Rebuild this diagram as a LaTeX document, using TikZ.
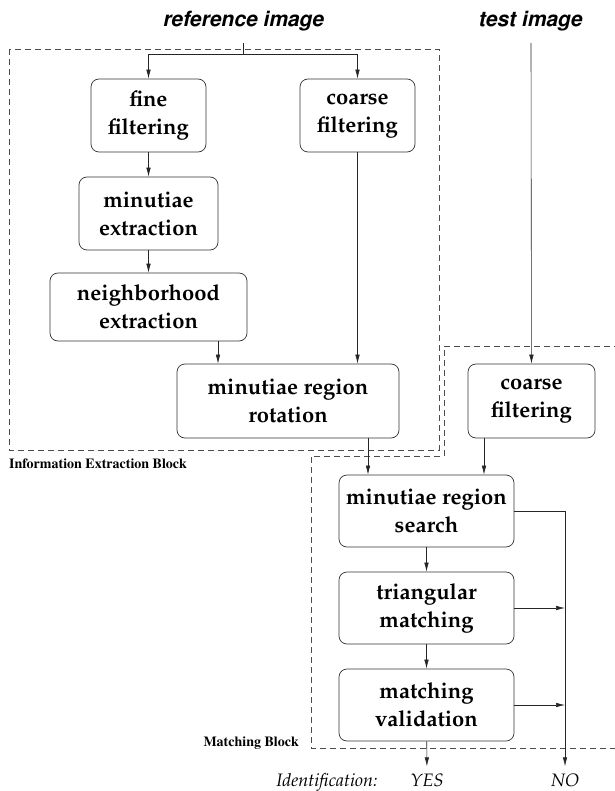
\documentclass[tikz,border=0pt]{standalone}
\usepackage[T1]{fontenc}
\usepackage{mathpazo}
\usepackage{helvet}
\usetikzlibrary{arrows.meta}

\begin{document}
\begin{tikzpicture}[
    x=1pt, y=-1pt,
    blk/.style = {draw=black!80, line width=0.7pt, rounded corners=8pt, align=center, minimum height=73pt, inner sep=2pt, font=\fontsize{22}{28}\selectfont\bfseries},
    arr/.style = {-{Latex[length=9pt,width=4.5pt]}, black!85, line width=0.6pt},
    blockline/.style = {dash pattern=on 6pt off 4pt, black!70, line width=0.6pt},
    title/.style = {font=\fontsize{21}{25}\selectfont\sffamily\bfseries\slshape},
    blocklabel/.style = {inner sep=0pt, font=\fontsize{14}{16}\fontfamily{ptm}\selectfont\bfseries},
    answer/.style = {anchor=base, inner sep=0pt, font=\fontsize{18}{20}\selectfont\itshape}
    ]
    \useasboundingbox (0,0) rectangle (614,791);

    \node[title] (reftitle) at (243,21) {reference image};
    \node[title] (testtitle) at (530,21) {test image};
    \coordinate (refin) at (243,43);
    \coordinate (split) at (243,54);
    \coordinate (testin) at (531,43);

    \begin{scope}[nodes=blk]
        \node[minimum width=115pt] (fine) at (148.5,115.5) {fine\\filtering};
        \node[minimum width=115pt] (coarseref) at (357.5,115.5) {coarse\\filtering};
        \node[minimum width=139pt] (minext) at (148.5,213.5) {minutiae\\extraction};
        \node[minimum width=197pt, minimum height=68pt] (neigh) at (148.5,307) {neighborhood\\extraction};
        \node[minimum width=222pt, minimum height=74pt] (rot) at (288,401) {minutiae region\\rotation};
        \node[minimum width=127pt, minimum height=74pt] (coarsetest) at (531.5,401) {coarse\\filtering};
        \node[minimum width=175pt, minimum height=72pt] (search) at (426.5,511) {minutiae region\\search};
        \node[minimum width=175pt, minimum height=72pt] (tri) at (426.5,608) {triangular\\matching};
        \node[minimum width=175pt, minimum height=72pt] (valid) at (426.5,705) {matching\\validation};
    \end{scope}

    \node[answer] (ident) at (327,786) {Identification:};
    \node[answer] (yes) at (427,786) {YES};
    \node[answer] (no) at (565,786) {NO};

    \draw[blockline] (9,49) rectangle (439,450);
    \draw[blockline] (620,346) -- (444,346) -- (444,456) -- (311,456) -- (311,748) -- (620,748);
    \node[blocklabel, anchor=west] (ieblabel) at (9,464) {Information Extraction Block};
    \node[blocklabel, anchor=east] (mblabel) at (299,743) {Matching Block};

    \draw[black!85, line width=0.6pt] (refin) -- (split);
    \draw[arr] (split) -| (fine);
    \draw[arr] (split) -| (coarseref);
    \draw[arr] (testin) -- (coarsetest);
    \draw[arr] (fine) -- (minext);
    \draw[arr] (minext) -- (neigh);
    \draw[arr] ([xshift=69.5pt]neigh.south) -- ([xshift=69.5pt]neigh.south |- rot.north);
    \draw[arr] (coarseref) -- (coarseref |- rot.north);
    \draw[arr] ([xshift=80pt]rot.south) -- ([xshift=80pt]rot.south |- search.north);
    \draw[arr] ([xshift=-47.5pt]coarsetest.south) -- ([xshift=-47.5pt]coarsetest.south |- search.north);
    \draw[arr] (search) -- (tri);
    \draw[arr] (tri) -- (valid);
    \draw[arr, shorten >=7pt] (valid) -- (yes);
    \draw[arr, shorten >=7pt] (search.east) -| (no);
    \draw[arr] (tri.east) -- (tri.east -| no);
    \draw[arr] (valid.east) -- (valid.east -| no);
\end{tikzpicture}
\end{document}
